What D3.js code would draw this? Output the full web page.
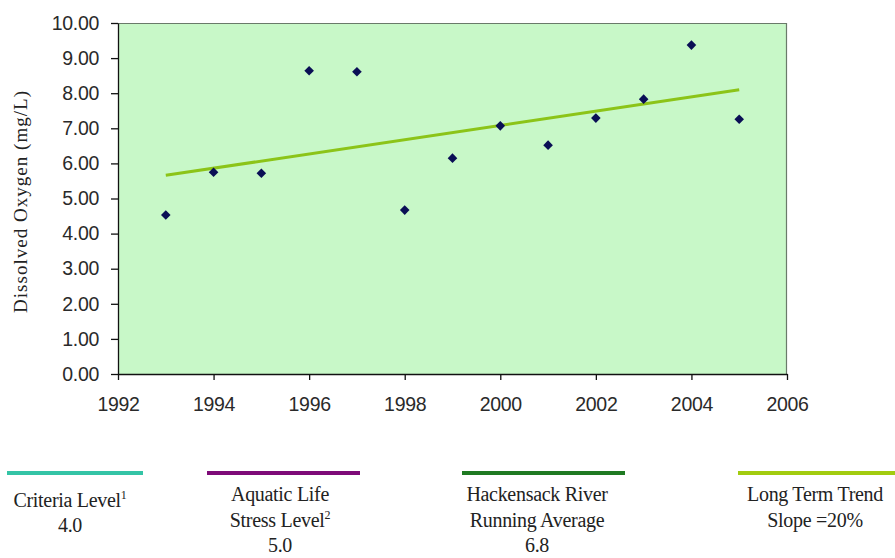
<!DOCTYPE html>
<html><head><meta charset="utf-8">
<script src="https://cdn.jsdelivr.net/npm/d3@7"></script>
<style>body{margin:0;background:#fff;}svg{display:block;}</style>
</head><body>
<svg id="c" width="895" height="558"></svg>
<script>
const years = [1993,1994,1995,1996,1997,1998,1999,2000,2001,2002,2003,2004,2005];
const doValues = [4.53,5.75,5.72,8.64,8.61,4.67,6.15,7.07,6.52,7.29,7.83,9.37,7.26];
const trendYears = [1993,2005];
const trendValues = [5.66,8.10];
const xTicks = [1992,1994,1996,1998,2000,2002,2004,2006];
const yTicks = [0,1,2,3,4,5,6,7,8,9,10];
const legendItems = [
  {lines:["Criteria Level|1","4.0"], color:"#34c4a6"},
  {lines:["Aquatic Life","Stress Level|2","5.0"], color:"#7e0a78"},
  {lines:["Hackensack River","Running Average","6.8"], color:"#1f7a22"},
  {lines:["Long Term Trend","Slope =20%"], color:"#a2cc10"}
];

const svg = d3.select("#c");
const L=118, R=787, T=23, B=374;
const x = d3.scaleLinear().domain([1992,2006]).range([L,R]);
const y = d3.scaleLinear().domain([0,10]).range([B,T]);

svg.append("rect").attr("x",L).attr("y",T).attr("width",R-L).attr("height",B-T)
  .attr("fill","#c8f8c8");
svg.append("line").attr("x1",L).attr("x2",R).attr("y1",T+0.5).attr("y2",T+0.5).attr("stroke","#6a7a6a").attr("stroke-width",1.2);
svg.append("line").attr("x1",R-0.5).attr("x2",R-0.5).attr("y1",T).attr("y2",B).attr("stroke","#6a7a6a").attr("stroke-width",1.2);

const yAxis = svg.append("g").attr("transform",`translate(${L},0)`)
  .call(d3.axisLeft(y).tickValues(yTicks).tickFormat(d3.format(".2f")).tickSize(7).tickPadding(12).tickSizeOuter(0));
const xAxis = svg.append("g").attr("transform",`translate(0,${B})`)
  .call(d3.axisBottom(x).tickValues(xTicks).tickFormat(d3.format("d")).tickSize(6).tickPadding(17).tickSizeOuter(0));
[yAxis,xAxis].forEach(g=>{
  g.selectAll("path,line").attr("stroke","#111").attr("stroke-width",1.3);
  g.selectAll("text").attr("font-family","Arial, 'Liberation Sans', sans-serif").attr("font-size",19.5).attr("fill","#2a2a2a").attr("letter-spacing","-0.3");
});

svg.append("text").attr("transform","translate(27,202) rotate(-90)").attr("text-anchor","middle")
  .attr("font-family","'Liberation Serif','Times New Roman',serif").attr("font-size",19).attr("fill","#222")
  .attr("textLength",222).attr("lengthAdjust","spacing")
  .text("Dissolved Oxygen (mg/L)");

svg.append("path").datum(trendYears.map((t,i)=>[t,trendValues[i]]))
  .attr("d", d3.line().x(d=>x(d[0])).y(d=>y(d[1])))
  .attr("stroke","#8cc418").attr("stroke-width",3).attr("fill","none");

svg.append("g").selectAll("path").data(years).join("path")
  .attr("transform",(d,i)=>`translate(${x(d)},${y(doValues[i])}) rotate(45)`)
  .attr("d", d3.symbol(d3.symbolSquare, 46))
  .attr("fill","#0a0f55");

// legend
const legX = [[7,143],[207,360],[462,625],[738,900]];
const legCx = [70,280,537,815];
const legY0 = [507,501,501,501];
legendItems.forEach((it,i)=>{
  svg.append("line").attr("x1",legX[i][0]).attr("x2",legX[i][1]).attr("y1",473).attr("y2",473)
    .attr("stroke",it.color).attr("stroke-width",4);
  it.lines.forEach((ln,j)=>{
    const t = svg.append("text").attr("x",legCx[i]).attr("y",legY0[i]+j*(i===0?25:25.5))
      .attr("text-anchor","middle").attr("font-family","'Liberation Serif','Times New Roman',serif")
      .attr("font-size",20).attr("fill","#222").attr("letter-spacing","-0.3");
    const parts = ln.split("|");
    t.append("tspan").text(parts[0]);
    if(parts[1]) t.append("tspan").attr("dy",-8).attr("font-size",12).text(parts[1]);
  });
});
</script>
</body></html>
